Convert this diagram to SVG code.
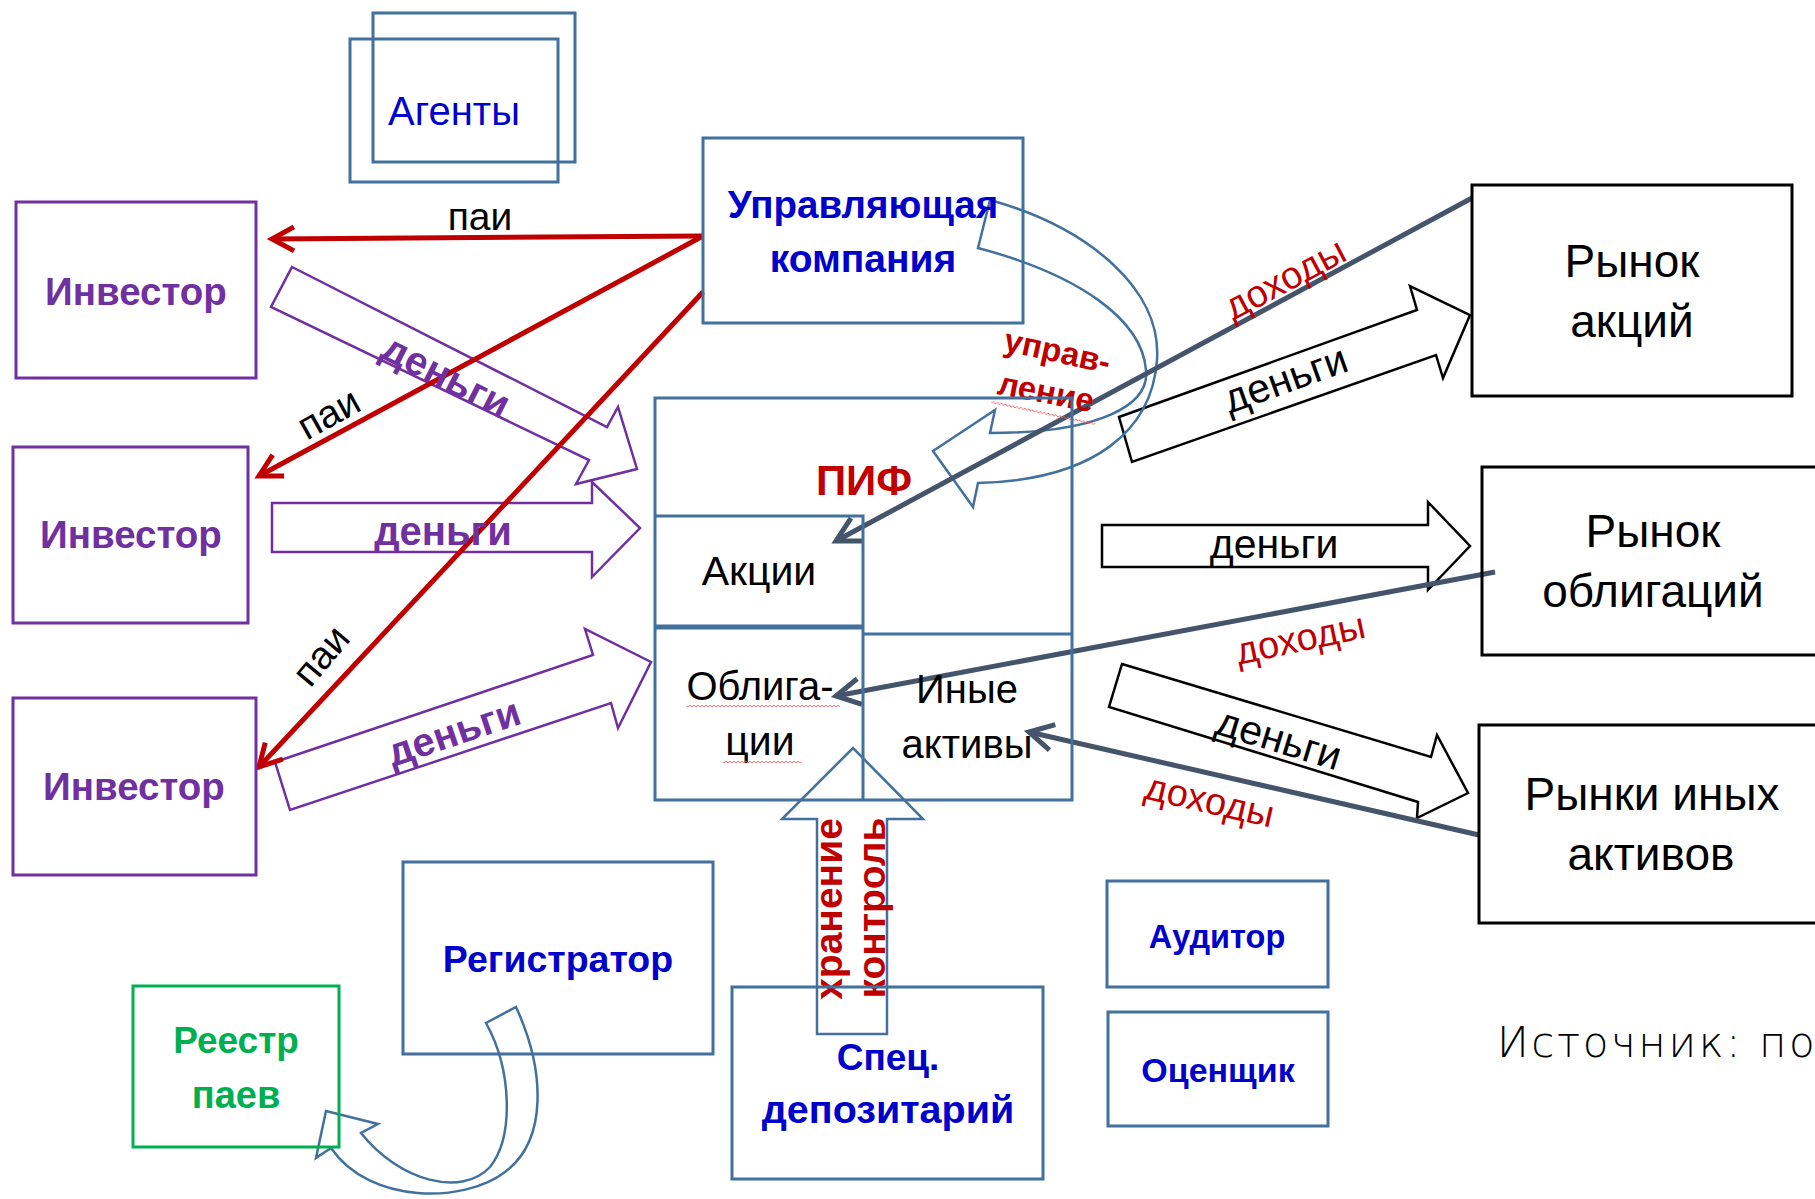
<svg xmlns="http://www.w3.org/2000/svg" width="1815" height="1199" viewBox="0 0 1815 1199">
<defs>
<style>
.t{font-family:"Liberation Sans",Arial,sans-serif;text-anchor:middle}
.b{font-weight:bold}
.blue{fill:#0000CC}
.pur{fill:#7030A0}
.red{fill:#C00000}
.blk{fill:#000}
.grn{fill:#00B050}
.sbox{fill:none;stroke:#41719C;stroke-width:3}
.pbox{fill:none;stroke:#7030A0;stroke-width:3}
.kbox{fill:none;stroke:#000;stroke-width:3}
.gbox{fill:none;stroke:#00B050;stroke-width:3}
.redl{fill:none;stroke:#C00000;stroke-width:5;marker-end:url(#ar)}
.darkl{fill:none;stroke:#44546A;stroke-width:5;marker-end:url(#ad)}
.parr{fill:none;stroke:#7030A0;stroke-width:2.5;stroke-linejoin:miter}
.karr{fill:none;stroke:#000;stroke-width:2.5;stroke-linejoin:miter}
.sarr{fill:none;stroke:#41719C;stroke-width:2.5}
</style>
<marker id="ar" markerUnits="userSpaceOnUse" viewBox="0 0 26 26" markerWidth="26" markerHeight="26" refX="23" refY="13" orient="auto" overflow="visible">
<path d="M1,1 L23,13 L1,25" fill="none" stroke="#C00000" stroke-width="5"/>
</marker>
<marker id="ad" markerUnits="userSpaceOnUse" viewBox="0 0 28 28" markerWidth="28" markerHeight="28" refX="25" refY="14" orient="auto" overflow="visible">
<path d="M1,1 L25,14 L1,27" fill="none" stroke="#44546A" stroke-width="5"/>
</marker>
<pattern id="sq" width="4" height="4" patternUnits="userSpaceOnUse">
<path d="M0,3 L2,1 L4,3" fill="none" stroke="#FF5A5A" stroke-width="0.9"/>
</pattern>
</defs>
<rect width="1815" height="1199" fill="#fff"/>

<g id="connectors">
<!-- purple money arrows -->
<polygon class="parr" points="292,267 607,427 618,407 637,469 576,484 589,460 271,307"/>
<polygon class="parr" points="272,503 592,503 592,482 640,528 592,577 592,552 272,552"/>
<polygon class="parr" points="275,762 593,655 585,629 651,662 618,728 611,703 290,810"/>
<!-- black money arrows -->
<polygon class="karr" points="1119,417 1417,310 1410,286 1470,315 1443,378 1436,355 1132,462"/>
<polygon class="karr" points="1102,525 1428,525 1428,502 1470,546 1428,590 1428,567 1102,567"/>
<polygon class="karr" points="1122,664 1431,757 1437,735 1468,793 1417,818 1418,802 1109,707"/>
<!-- management curved arrow -->
<path class="sarr" d="M990,200 C1090,228 1162,290 1157,360 C1152,430 1095,480 978,483 L973,507 L933,451 L995,410 L990,433 C1100,433 1150,405 1146,370 C1142,320 1080,275 978,248 Z"/>
<!-- registrar curved arrow -->
<path class="sarr" d="M516,1007 C545,1070 548,1140 505,1172 C465,1203 370,1205 331,1148 L316,1158 L326,1111 L378,1124 L361,1133 C400,1182 462,1197 490,1167 C514,1137 512,1070 486,1023 Z"/>
<!-- depository up arrow -->
<polygon class="sarr" points="817,1034 817,819 782,819 853,748 923,819 887,819 887,1034"/>
<!-- red units lines -->
<line class="redl" x1="703" y1="236" x2="272" y2="239"/>
<line class="redl" x1="703" y1="236" x2="259" y2="476"/>
<line class="redl" x1="703" y1="292" x2="259" y2="767"/>
<!-- dark income lines -->
<line class="darkl" x1="1472" y1="198" x2="836" y2="541"/>
<line class="darkl" x1="1495" y1="572" x2="836" y2="696"/>
<line class="darkl" x1="1479" y1="835" x2="1029" y2="732"/>
</g>

<g id="labels">
<text class="t blk" x="480" y="230" font-size="39">паи</text>
<text class="t blk" font-size="39" transform="translate(335,425) rotate(-29)">паи</text>
<text class="t blk" font-size="39" transform="translate(331,664) rotate(-50)">паи</text>
<text class="t b pur" font-size="40" transform="translate(440,388) rotate(27)">деньги</text>
<text class="t b pur" x="443" y="545" font-size="40">деньги</text>
<text class="t b pur" font-size="40" transform="translate(458,745) rotate(-18.6)">деньги</text>
<text class="t blk" font-size="41" transform="translate(1290,392) rotate(-19.7)">деньги</text>
<text class="t blk" x="1274" y="558" font-size="41">деньги</text>
<text class="t blk" font-size="41" transform="translate(1275,752) rotate(17)">деньги</text>
<text class="t red" font-size="38" transform="translate(1291,290) rotate(-28)">доходы</text>
<text class="t red" font-size="38" transform="translate(1303,651) rotate(-12)">доходы</text>
<text class="t red" font-size="38" transform="translate(1207,813) rotate(13)">доходы</text>
<text class="t b red" font-size="33" transform="translate(1055,362) rotate(12.4)">управ-</text>
<text class="t b red" font-size="33" transform="translate(1044,403) rotate(11)">ление</text>
<rect x="0" y="0" width="106" height="4" fill="url(#sq)" transform="translate(992,400) rotate(12)"/>
<text class="t b red" font-size="39" transform="translate(842,909) rotate(-90)">хранение</text>
<text class="t b red" font-size="39" transform="translate(885,908) rotate(-90)">контроль</text>
</g>

<g id="agents">
<rect class="sbox" x="373" y="13" width="202" height="149"/>
<rect class="sbox" x="350" y="39" width="208" height="143"/>
<text class="t blue" x="454" y="125" font-size="40">Агенты</text>
</g>

<g id="investor1">
<rect class="pbox" x="16" y="202" width="240" height="176"/>
<text class="t b pur" x="136" y="305" font-size="38.5">Инвестор</text>
</g>
<g id="investor2">
<rect class="pbox" x="13" y="447" width="235" height="176"/>
<text class="t b pur" x="131" y="548" font-size="38.5">Инвестор</text>
</g>
<g id="investor3">
<rect class="pbox" x="13" y="698" width="243" height="177"/>
<text class="t b pur" x="134" y="800" font-size="38.5">Инвестор</text>
</g>

<g id="management-company">
<rect class="sbox" x="703" y="138" width="320" height="185"/>
<text class="t b blue" x="863" y="218" font-size="38.5">Управляющая</text>
<text class="t b blue" x="863" y="272" font-size="39">компания</text>
</g>

<g id="pif">
<rect class="sbox" x="655" y="398" width="417" height="402"/>
<path class="sbox" d="M655,516 H863 V627 M863,634 H1072 M863,627 V800"/>
<line x1="655" y1="627" x2="863" y2="627" stroke="#41719C" stroke-width="5"/>
<text class="t b red" x="864" y="495" font-size="42">ПИФ</text>
<text class="t blk" x="759" y="585" font-size="41">Акции</text>
<text class="t blk" x="760" y="700" font-size="40">Облига-</text>
<text class="t blk" x="760" y="755" font-size="41">ции</text>
<rect x="687" y="705" width="153" height="4" fill="url(#sq)"/>
<rect x="723" y="760" width="78" height="4" fill="url(#sq)"/>
<text class="t blk" x="967" y="703" font-size="40">Иные</text>
<text class="t blk" x="967" y="758" font-size="40">активы</text>
</g>

<g id="stock-market">
<rect class="kbox" x="1472" y="185" width="320" height="211"/>
<text class="t blk" x="1632" y="277" font-size="46">Рынок</text>
<text class="t blk" x="1632" y="337" font-size="46">акций</text>
</g>
<g id="bond-market">
<rect class="kbox" x="1482" y="467" width="350" height="188"/>
<text class="t blk" x="1653" y="547" font-size="46">Рынок</text>
<text class="t blk" x="1653" y="607" font-size="46">облигаций</text>
</g>
<g id="other-markets">
<rect class="kbox" x="1479" y="725" width="350" height="198"/>
<text class="t blk" x="1652" y="810" font-size="46">Рынки иных</text>
<text class="t blk" x="1651" y="870" font-size="46">активов</text>
</g>

<g id="auditor">
<rect class="sbox" x="1107" y="881" width="221" height="106"/>
<text class="t b blue" x="1217" y="948" font-size="32.5">Аудитор</text>
</g>
<g id="appraiser">
<rect class="sbox" x="1108" y="1012" width="220" height="114"/>
<text class="t b blue" x="1218" y="1082" font-size="34">Оценщик</text>
</g>

<g id="registrar">
<rect class="sbox" x="403" y="862" width="310" height="192"/>
<text class="t b blue" x="558" y="972" font-size="37.5">Регистратор</text>
</g>
<g id="unit-register">
<rect class="gbox" x="133" y="986" width="206" height="161"/>
<text class="t b grn" x="236" y="1053" font-size="37">Реестр</text>
<text class="t b grn" x="236" y="1108" font-size="38">паев</text>
</g>

<g id="special-depository">
<rect class="sbox" x="732" y="987" width="311" height="192"/>
<text class="t b blue" x="888" y="1070" font-size="37">Спец.</text>
<text class="t b blue" x="888" y="1123" font-size="39.5">депозитарий</text>
</g>

<g id="source">
<text x="1497" y="1057" font-family="'DejaVu Sans','Liberation Sans',sans-serif" font-weight="200" font-size="42" letter-spacing="2.6" fill="#000">Источник: по</text>
</g>
</svg>
